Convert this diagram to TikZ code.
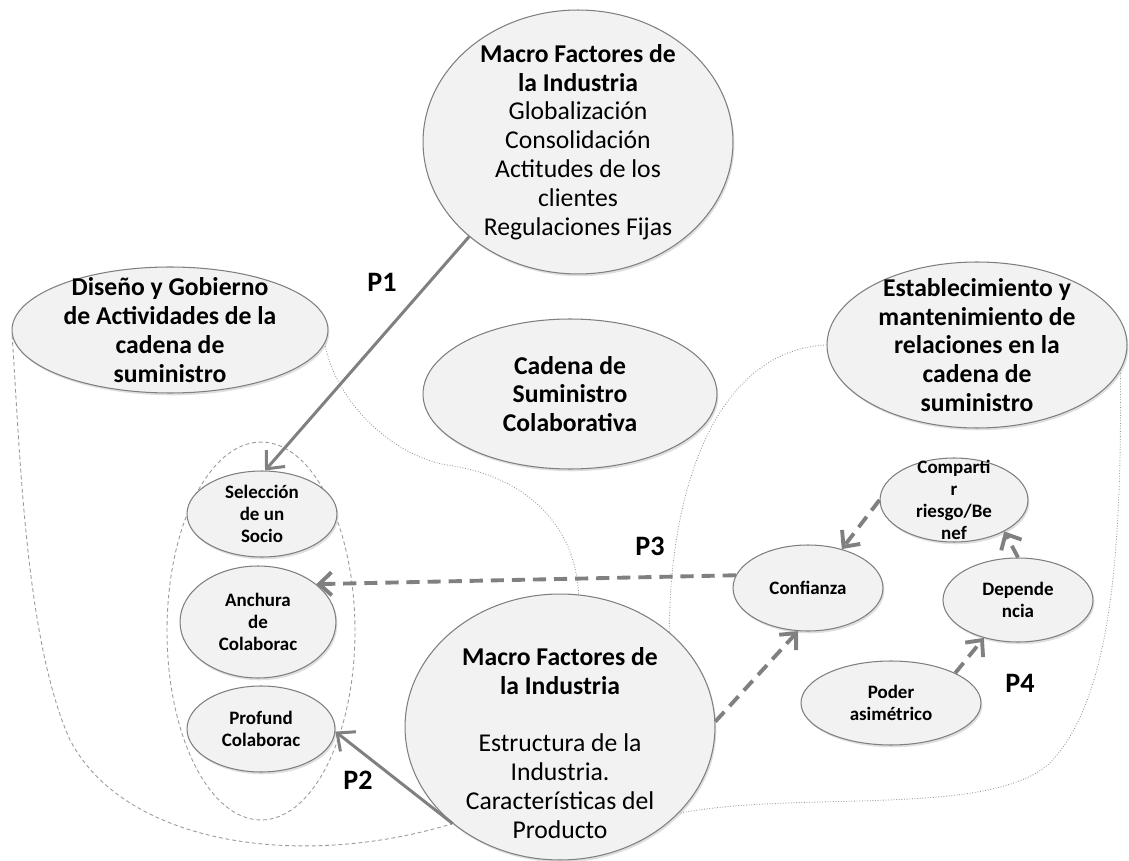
\documentclass[tikz,border=0pt]{standalone}
\usepackage{fontspec}
\setmainfont{Carlito}
\usetikzlibrary{arrows.meta, shapes.geometric, shadows}

\definecolor{ellfill}{HTML}{F2F2F2}
\definecolor{elldraw}{HTML}{7F7F7F}
\definecolor{arrgray}{HTML}{808080}
\definecolor{thingray}{HTML}{9A9A9A}

\tikzset{
  ell/.style 2 args={ellipse, draw=elldraw, line width=0.6pt, fill=ellfill,
    inner sep=-4cm, minimum width=#1, minimum height=#2, align=center,
    drop shadow={opacity=0.25, shadow xshift=0.8pt, shadow yshift=-1.3pt}},
  bigtxt/.style={font=\fontsize{14.6}{16.4}\selectfont},
  bigbold/.style={font=\fontsize{14.6}{16.4}\selectfont\bfseries},
  smalltxt/.style={font=\fontsize{10.8}{12.4}\selectfont\bfseries},
  plabel/.style={font=\fontsize{16}{19}\selectfont\bfseries},
  solidarr/.style={draw=arrgray, line width=1.7pt, -{Straight Barb[length=2.8mm, width=5mm]}},
  dasharr/.style={draw=arrgray, line width=2.2pt, dash pattern=on 7.5pt off 4.5pt,
    -{Straight Barb[length=2.5mm, width=4.6mm]}},
  thinline/.style={draw=thingray, line width=0.5pt, densely dotted},
  thindash/.style={draw=thingray, line width=0.5pt, dash pattern=on 2.2pt off 1.6pt},
}

\begin{document}
\begin{tikzpicture}[x=0.02cm, y=-0.02cm]
\useasboundingbox (0,0) rectangle (1129,861);

% grupo de colaboracion
\node[ellipse, thindash, minimum width=3.76cm, minimum height=7.56cm] (grupo) at (261,631) {};

% elipses grandes
\node[ell={6.2cm}{5.28cm}, bigtxt] (topmf) at (578,142)
  {\textbf{Macro Factores de}\\\textbf{la Industria}\\Globalización\\Consolidación\\Actitudes de los\\clientes\\Regulaciones Fijas};
\node[ell={6.32cm}{2.52cm}, bigbold] (diseno) at (170,330)
  {Diseño y Gobierno\\de Actividades de la\\cadena de\\suministro};
\node[ell={5.88cm}{3.0cm}, bigbold] (cadena) at (570,394)
  {Cadena de\\Suministro\\Colaborativa};
\node[ell={6.0cm}{3.32cm}, bigbold] (estab) at (977,345)
  {Establecimiento y\\mantenimiento de\\relaciones en la\\cadena de\\suministro};
\node[ell={6.2cm}{5.32cm}] (botmf) at (560,727) {};
\node[bigtxt, align=center] (botmftxt) at (560,743)
  {\textbf{Macro Factores de}\\\textbf{la Industria}\\[16.4pt]Estructura de la\\Industria.\\Características del\\Producto};

% elipses pequenas
\node[ell={3.0cm}{1.72cm}, smalltxt] (selec) at (262,514) {Selección\\de un\\Socio};
\node[ell={3.12cm}{2.24cm}, smalltxt] (anchura) at (258,622) {Anchura\\de\\Colaborac};
\node[ell={2.96cm}{1.72cm}, smalltxt] (profund) at (261,729) {Profund\\Colaborac};
\node[ell={3.0cm}{1.72cm}, smalltxt] (confianza) at (808,588) {Confianza};
\node[ell={2.96cm}{1.68cm}, smalltxt] (compartir) at (954,500) {Comparti\\r\\riesgo/Be\\nef};
\node[ell={3.0cm}{1.68cm}, smalltxt] (dependencia) at (1018,600) {Depende\\ncia};
\node[ell={3.6cm}{1.68cm}, smalltxt] (poder) at (891,703) {Poder\\asimétrico};

% lineas finas
\draw[thindash] (diseno.182) .. controls (20,450) and (25,640) .. (70,740)
  .. controls (125,845) and (300,870) .. (botmf.222);
\draw[thinline] (diseno.-5) .. controls (335,400) and (390,455) .. (447,465)
  .. controls (520,475) and (575,520) .. (botmf.82);
\draw[thinline] (estab.180) .. controls (720,350) and (670,480) .. (botmf.41);
\draw[thinline] (estab.-10) .. controls (1122,560) and (1110,700) .. (1050,763)
  .. controls (990,818) and (800,790) .. (botmf.-36);

% proposiciones
\draw[solidarr] (topmf.221) -- (selec.86);
\draw[solidarr] (botmf.222) -- (profund.-2);
\draw[dasharr] (confianza.170) -- (anchura.33);
\draw[dasharr] (botmf.2) -- (confianza.257);
\draw[dasharr] (compartir.180) -- (confianza.49);
\draw[dasharr] (dependencia.north) -- (compartir.-32);
\draw[dasharr] (poder.25) -- (dependencia.228);

\node[plabel] (p1) at (382,282) {P1};
\node[plabel] (p2) at (358,780) {P2};
\node[plabel] (p3) at (650,546) {P3};
\node[plabel] (p4) at (1020,683) {P4};
\end{tikzpicture}
\end{document}
